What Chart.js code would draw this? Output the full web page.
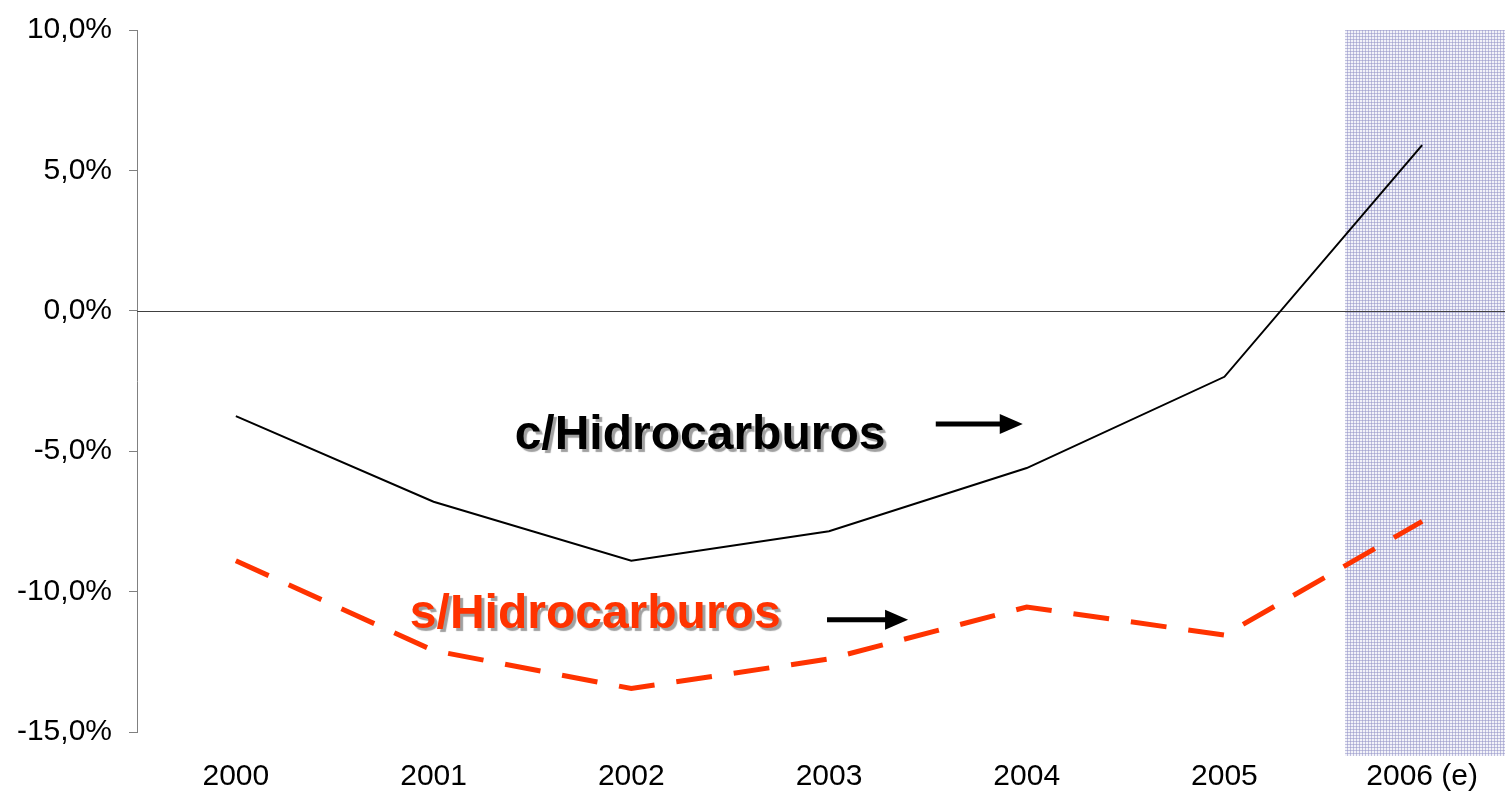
<!DOCTYPE html>
<html>
<head>
<meta charset="utf-8">
<script src="https://cdn.jsdelivr.net/npm/chart.js@4.4.1/dist/chart.umd.min.js"></script>
<style>
    html, body { margin: 0; padding: 0; background: #fff; overflow: hidden; }
    #wrap { position: relative; width: 1525px; height: 795px; }
</style>
</head>
<body>
<div id="wrap"><canvas id="deficitChart"></canvas></div>
<script>
const years = ['2000', '2001', '2002', '2003', '2004', '2005', '2006 (e)'];
const conHidrocarburos = [-3.75, -6.8, -8.9, -7.85, -5.6, -2.35, 5.9];
const sinHidrocarburos = [-8.9, -12.1, -13.45, -12.4, -10.55, -11.55, -7.5];
const yTicks = [-15, -10, -5, 0, 5, 10];

// blue hatch used for the estimated year
const makeHatch = () => {
    const tile = document.createElement('canvas');
    tile.width = 3;
    tile.height = 3;
    const t = tile.getContext('2d');
    t.fillStyle = '#f2f2f9';
    t.fillRect(0, 0, 3, 3);
    t.fillStyle = 'rgba(150, 150, 200, 0.55)';
    t.fillRect(0, 0, 3, 1);
    t.fillRect(0, 0, 1, 3);
    return t.createPattern(tile, 'repeat');
};

const fmtPct = (v) => v.toFixed(1).replace('.', ',') + '%';

const overlayPlugin = {
    id: 'overlay',
    beforeDatasetsDraw(chart) {
        const { ctx, chartArea, scales: { x, y } } = chart;
        const step = x.getPixelForValue(1) - x.getPixelForValue(0);
        ctx.save();
        // shaded estimate band
        const left = x.getPixelForValue(5) + step * 0.61;
        ctx.fillStyle = makeHatch();
        ctx.fillRect(left, chartArea.top, chart.width - left, chartArea.bottom - chartArea.top + 24);
        // zero line
        const y0 = Math.round(y.getPixelForValue(0)) + 0.5;
        ctx.strokeStyle = '#404040';
        ctx.lineWidth = 1;
        ctx.beginPath();
        ctx.moveTo(chartArea.left, y0);
        ctx.lineTo(chart.width, y0);
        ctx.stroke();
        ctx.restore();
    },
    afterDatasetsDraw(chart) {
        const { ctx, scales: { x, y } } = chart;
        ctx.save();
        ctx.font = 'bold 48px "Liberation Sans", Arial, sans-serif';
        ctx.textBaseline = 'middle';
        ctx.textAlign = 'left';
        ctx.shadowColor = 'rgba(150,150,150,0.9)';
        ctx.shadowOffsetX = 3;
        ctx.shadowOffsetY = 3;
        ctx.shadowBlur = 1;
        ctx.fillStyle = '#000000';
        ctx.fillText('c/Hidrocarburos', x.getPixelForValue(1.41), y.getPixelForValue(-4.45));
        ctx.fillStyle = '#ff3300';
        ctx.fillText('s/Hidrocarburos', x.getPixelForValue(0.88), y.getPixelForValue(-10.82));
        ctx.restore();

        const arrow = (x1, x2, yy) => {
            ctx.save();
            ctx.strokeStyle = '#000';
            ctx.fillStyle = '#000';
            ctx.lineWidth = 5;
            ctx.beginPath();
            ctx.moveTo(x1, yy);
            ctx.lineTo(x2 - 16, yy);
            ctx.stroke();
            ctx.beginPath();
            ctx.moveTo(x2, yy);
            ctx.lineTo(x2 - 23, yy - 10);
            ctx.lineTo(x2 - 23, yy + 10);
            ctx.closePath();
            ctx.fill();
            ctx.restore();
        };
        arrow(x.getPixelForValue(3.54), x.getPixelForValue(3.98), y.getPixelForValue(-4.03));
        arrow(x.getPixelForValue(2.99), x.getPixelForValue(3.40), y.getPixelForValue(-11.0));
    }
};

const ctx = document.getElementById('deficitChart').getContext('2d');
Chart.defaults.font.family = '"Liberation Sans", Arial, sans-serif';
Chart.defaults.color = '#000';

new Chart(ctx, {
    type: 'line',
    data: {
        labels: years,
        datasets: [
            {
                label: 'c/Hidrocarburos',
                data: conHidrocarburos,
                borderColor: '#000000',
                borderWidth: 2,
                pointRadius: 0,
                tension: 0
            },
            {
                label: 's/Hidrocarburos',
                data: sinHidrocarburos,
                borderColor: '#ff3300',
                borderWidth: 5,
                borderDash: [36, 22],
                pointRadius: 0,
                tension: 0
            }
        ]
    },
    options: {
        responsive: true,
        maintainAspectRatio: false,
        animation: false,
        layout: { padding: { top: 30, left: 0, right: 4, bottom: 0 } },
        plugins: {
            legend: { display: false },
            tooltip: { enabled: false }
        },
        scales: {
            x: {
                offset: true,
                grid: { display: false, drawTicks: false },
                border: { display: false },
                ticks: { font: { size: 30 }, padding: 27, maxRotation: 0 },
                afterFit: (axis) => { axis.height = 63; }
            },
            y: {
                min: -15,
                max: 10,
                afterBuildTicks: (axis) => { axis.ticks = yTicks.map(v => ({ value: v })); },
                grid: { drawOnChartArea: false, tickLength: 8, color: '#808080' },
                border: { display: true, color: '#808080', width: 1 },
                ticks: {
                    font: { size: 30 },
                    padding: 17,
                    callback: (v) => fmtPct(v)
                },
                afterFit: (axis) => {
                    axis.width = 137;
                    axis.paddingTop = 0;
                    axis.paddingBottom = 0;
                }
            }
        }
    },
    plugins: [overlayPlugin]
});
</script>
</body>
</html>
